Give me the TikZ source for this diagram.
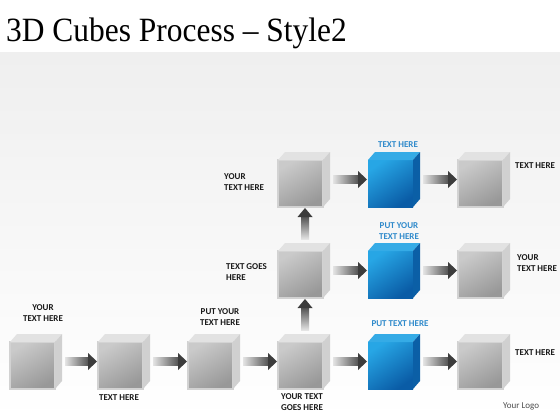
\documentclass[tikz,border=0pt]{standalone}
\usepackage{fontspec}
\setmainfont{Carlito}
\newfontfamily\titlefont{Liberation Serif}
\usetikzlibrary{calc}
\definecolor{bgtop}{HTML}{EFEFEF}
\definecolor{frame}{HTML}{D2D2D2}
\definecolor{gtop}{HTML}{E2E2E2}
\definecolor{gside}{HTML}{D0D0D0}
\definecolor{gfa}{HTML}{CACACA}
\definecolor{gfb}{HTML}{989898}
\definecolor{bfa}{HTML}{27A6E5}
\definecolor{bfb}{HTML}{0A5CA6}
\definecolor{btop}{HTML}{35ABE6}
\definecolor{bside}{HTML}{0B5FA6}
\definecolor{arlight}{HTML}{E4E4E4}
\definecolor{ardark}{HTML}{555555}
\definecolor{arhead}{HTML}{3C3C3C}
\definecolor{bluetext}{HTML}{2F8ACB}
\tikzset{
  x=1pt, y=1pt,
  gcube/.style={minimum width=45pt, minimum height=47pt, inner sep=0pt, outer sep=0pt,
    draw=frame, line width=1.5pt, top color=gfa, bottom color=gfb, shading angle=30},
  bcube/.style={minimum width=45pt, minimum height=47pt, inner sep=0pt, outer sep=0pt,
    top color=bfa, bottom color=bfb, shading angle=35},
  lbl/.style={font=\fontsize{9}{11}\selectfont\bfseries, text=black!90, inner sep=0pt},
  blbl/.style={lbl, text=bluetext},
}
\newcommand\cubefaces[3]{%
  \fill[#2] (#1.north west) -- ++(7,8) -- ($(#1.north east)+(7,8)$) -- (#1.north east) -- cycle;
  \fill[#3] (#1.north east) -- ++(7,8) -- ($(#1.south east)+(7,8)$) -- (#1.south east) -- cycle;}
\newcommand\harrow[2]{%
  \shade[left color=arlight, right color=ardark] ($(#1.east)+(10,8)$) rectangle ($(#2.west)+(-10,0)$);
  \fill[arhead] ($(#2.west)+(-10,12.5)$) -- ($(#2.west)+(-1,4)$) -- ($(#2.west)+(-10,-4.5)$) -- cycle;}
\newcommand\varrow[2]{%
  \shade[bottom color=arlight, top color=ardark] ($(#1.north)+(0.5,12)$) rectangle ($(#2.south)+(8.5,-10)$);
  \fill[arhead] ($(#2.south)+(-3,-10)$) -- ($(#2.south)+(4.5,-1)$) -- ($(#2.south)+(12,-10)$) -- cycle;}
\begin{document}
\begin{tikzpicture}
\useasboundingbox (0,0) rectangle (560,-420);
\fill[white] (0,0) rectangle (560,-420);
\shade[top color=bgtop, bottom color=white] (0,-53) rectangle (560,-420);
\node[anchor=base west, inner sep=0pt, xscale=0.925, font=\titlefont\fontsize{34}{34}\selectfont] (title) at (6,-42) {3D Cubes Process – Style2};

% bottom row
\node[gcube] (b1) at (32.5,-365.5) {};
\node[gcube] (b2) at (120.5,-365.5) {};
\node[gcube] (b3) at (210.5,-365.5) {};
\node[gcube] (b4) at (300.5,-365.5) {};
\node[bcube] (b5) at (390.5,-365.5) {};
\node[gcube] (b6) at (480.5,-365.5) {};
% middle row
\node[gcube] (m4) at (300.5,-274.5) {};
\node[bcube] (m5) at (390.5,-274.5) {};
\node[gcube] (m6) at (480.5,-274.5) {};
% top row
\node[gcube] (t4) at (300.5,-183.5) {};
\node[bcube] (t5) at (390.5,-183.5) {};
\node[gcube] (t6) at (480.5,-183.5) {};

\foreach \c in {b1,b2,b3,b4,b6,m4,m6,t4,t6}{\cubefaces{\c}{gtop}{gside}}
\foreach \c in {b5,m5,t5}{\cubefaces{\c}{btop}{bside}}

\harrow{b1}{b2}
\harrow{b2}{b3}
\harrow{b3}{b4}
\harrow{b4}{b5}
\harrow{b5}{b6}
\harrow{m4}{m5}
\harrow{m5}{m6}
\harrow{t4}{t5}
\harrow{t5}{t6}
\varrow{b4}{m4}
\varrow{m4}{t4}

% labels
\node[lbl, align=center] (l1) at (43,-313.5) {YOUR\\TEXT HERE};
\node[lbl] (l2) at (119,-398) {TEXT HERE};
\node[lbl, align=center] (l3) at (220,-317.5) {PUT YOUR\\TEXT HERE};
\node[lbl, align=center] (l4) at (302,-402.5) {YOUR TEXT\\GOES HERE};
\node[blbl] (l5) at (400,-324) {PUT TEXT HERE};
\node[lbl, anchor=west] (l6) at (515,-353) {TEXT HERE};
\node[anchor=west, inner sep=0pt, font=\fontsize{9}{11}\selectfont, text=black!70] (logo) at (503,-406) {Your Logo};
\node[lbl, align=left, anchor=west] (l8) at (226,-272.5) {TEXT GOES\\HERE};
\node[lbl, align=left, anchor=west] (l9) at (224,-182.5) {YOUR\\TEXT HERE};
\node[blbl, align=center] (l10) at (399,-231.5) {PUT YOUR\\TEXT HERE};
\node[lbl, align=left, anchor=west] (l11) at (517,-263) {YOUR\\TEXT HERE};
\node[blbl] (l12) at (398,-145) {TEXT HERE};
\node[lbl, anchor=west] (l13) at (515,-166) {TEXT HERE};
\end{tikzpicture}
\end{document}
